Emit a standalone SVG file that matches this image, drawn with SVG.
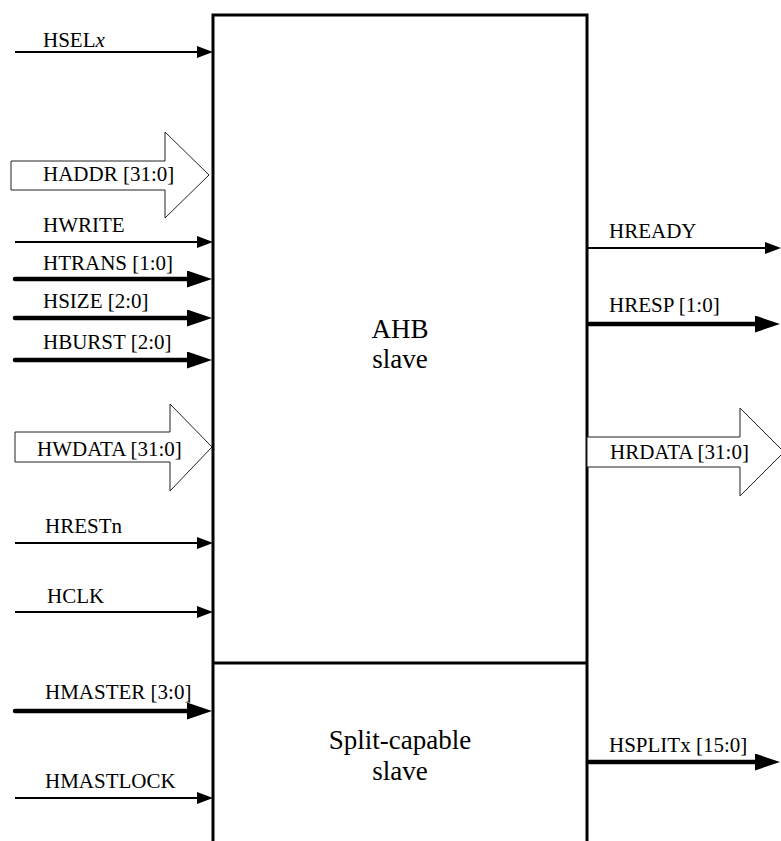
<svg xmlns="http://www.w3.org/2000/svg" width="781" height="841" viewBox="0 0 781 841" font-family="'Liberation Serif', 'Times New Roman', 'DejaVu Serif', serif">
<style>
text{font-family:'Liberation Serif','Times New Roman','DejaVu Serif',serif;fill:#000}
.lbl{font-size:21px}
.big{font-size:27px}
.thin{stroke:#000;stroke-width:2;fill:none}
.thick{stroke:#000;stroke-width:4.5;fill:none;stroke-linecap:round}
.bus{fill:#fff;stroke:#222;stroke-width:1}
.box{fill:none;stroke:#000;stroke-width:3}
</style>
<defs>
<marker id="ah" markerUnits="userSpaceOnUse" markerWidth="17" markerHeight="13" refX="8" refY="6" orient="auto"><path d="M0,0 L16,6 L0,12 z" fill="#000"/></marker>
<marker id="ahb" markerUnits="userSpaceOnUse" markerWidth="26" markerHeight="18" refX="13" refY="8.5" orient="auto"><path d="M0,0 L25,8.5 L0,17 z" fill="#000"/></marker>
</defs>
<g id="slave">
<path class="box" d="M213,841 V15 H587 V841"/>
<line class="box" x1="213" y1="663" x2="587" y2="663"/>
<text class="big" x="400" y="338" text-anchor="middle">AHB</text>
<text class="big" x="400" y="368" text-anchor="middle">slave</text>
</g>
<g id="split">
<text class="big" x="400" y="749" text-anchor="middle">Split-capable</text>
<text class="big" x="400" y="780" text-anchor="middle">slave</text>
</g>
<g id="connectors">
<line class="thin" x1="15" y1="52" x2="205" y2="52" marker-end="url(#ah)"/>
<polygon class="bus" points="11,161 165,161 165,132 209,175 165,218 165,190 11,190"/>
<line class="thin" x1="15" y1="242" x2="205" y2="242" marker-end="url(#ah)"/>
<line class="thick" x1="15" y1="279" x2="200" y2="279" marker-end="url(#ahb)"/>
<line class="thick" x1="15" y1="318" x2="200" y2="318" marker-end="url(#ahb)"/>
<line class="thick" x1="15" y1="360" x2="200" y2="360" marker-end="url(#ahb)"/>
<polygon class="bus" points="15,432 170,432 170,404 212,447 170,491 170,462 15,462"/>
<line class="thin" x1="15" y1="543" x2="205" y2="543" marker-end="url(#ah)"/>
<line class="thin" x1="15" y1="612" x2="205" y2="612" marker-end="url(#ah)"/>
<line class="thick" x1="15" y1="711" x2="200" y2="711" marker-end="url(#ahb)"/>
<line class="thin" x1="15" y1="798" x2="205" y2="798" marker-end="url(#ah)"/>
<line class="thin" x1="587" y1="248" x2="773" y2="248" marker-end="url(#ah)"/>
<line class="thick" x1="589" y1="324" x2="768" y2="324" marker-end="url(#ahb)"/>
<polygon class="bus" points="587,437 740,437 740,408 784,452 740,496 740,467 587,467"/>
<line class="thick" x1="589" y1="762" x2="768" y2="762" marker-end="url(#ahb)"/>
</g>
<g id="labels">
<text class="lbl" x="43" y="47">HSEL<tspan font-style="italic">x</tspan></text>
<text class="lbl" x="43" y="181">HADDR [31:0]</text>
<text class="lbl" x="43" y="232">HWRITE</text>
<text class="lbl" x="43" y="270">HTRANS [1:0]</text>
<text class="lbl" x="43" y="308">HSIZE [2:0]</text>
<text class="lbl" x="43" y="349">HBURST [2:0]</text>
<text class="lbl" x="37" y="456">HWDATA [31:0]</text>
<text class="lbl" x="45" y="533">HRESTn</text>
<text class="lbl" x="47" y="603">HCLK</text>
<text class="lbl" x="45" y="699">HMASTER [3:0]</text>
<text class="lbl" x="45" y="788">HMASTLOCK</text>
<text class="lbl" x="609" y="238">HREADY</text>
<text class="lbl" x="609" y="312">HRESP [1:0]</text>
<text class="lbl" x="610" y="459">HRDATA [31:0]</text>
<text class="lbl" x="609" y="752">HSPLITx [15:0]</text>
</g>
</svg>
